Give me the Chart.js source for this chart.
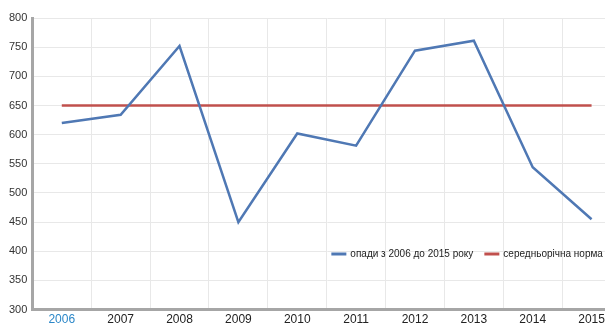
<!DOCTYPE html>
<html>
<head>
<meta charset="utf-8">
<script src="https://cdn.jsdelivr.net/npm/chart.js@4"></script>
<style>
  html, body { margin: 0; padding: 0; background: #fff; overflow: hidden; }
  #wrap { width: 605px; height: 323px; overflow: hidden; }
</style>
</head>
<body>
<div id="wrap"><canvas id="rainChart" width="626" height="330"></canvas></div>
<script>
// Data
const years = ["2006", "2007", "2008", "2009", "2010", "2011", "2012", "2013", "2014", "2015"];
const rainfall = [620, 634, 752, 450, 602, 581, 744, 761, 544, 455];
const norm = [650, 650, 650, 650, 650, 650, 650, 650, 650, 650];
const yTicks = [300, 350, 400, 450, 500, 550, 600, 650, 700, 750, 800];

const ctx = document.getElementById("rainChart").getContext("2d");

// legend drawn inside the plot, near the bottom
const innerLegend = {
  id: "innerLegend",
  afterDatasetsDraw(chart) {
    const c = chart.ctx;
    const area = chart.chartArea;
    const y = area.top + 236;
    const starts = [area.left + 299, area.left + 452];
    c.save();
    c.font = "10px 'Liberation Sans', Arial, sans-serif";
    c.textBaseline = "middle";
    chart.data.datasets.forEach((ds, i) => {
      const x = starts[i];
      c.strokeStyle = ds.borderColor;
      c.lineWidth = 3;
      c.beginPath();
      c.moveTo(x, y);
      c.lineTo(x + 15, y);
      c.stroke();
      c.fillStyle = "#222";
      c.fillText(ds.label, x + 19, y);
    });
    c.restore();
  }
};

new Chart(ctx, {
  type: "line",
  data: {
    labels: years,
    datasets: [
      {
        label: "опади з 2006 до 2015 року",
        data: rainfall,
        borderColor: "#4f78b4",
        borderWidth: 2.5,
        pointRadius: 0,
        tension: 0
      },
      {
        label: "середньорічна норма",
        data: norm,
        borderColor: "#c0504d",
        borderWidth: 2.5,
        pointRadius: 0,
        tension: 0
      }
    ]
  },
  options: {
    responsive: false,
    animation: false,
    layout: { padding: { top: 18, right: 5, left: 4, bottom: 0 } },
    plugins: {
      legend: { display: false },
      tooltip: { enabled: false }
    },
    scales: {
      x: {
        offset: true,
        grid: { offset: true, color: "#e8e8e8", drawTicks: false },
        border: { color: "#a6a6a6", width: 3 },
        ticks: {
          padding: 3,
          color: years.map((y, i) => (i === 0 ? "#2b87c8" : "#222")),
          font: { family: "'Liberation Sans', Arial, sans-serif", size: 12 },
          maxRotation: 0,
          autoSkip: false
        }
      },
      y: {
        min: yTicks[0],
        max: yTicks[yTicks.length - 1],
        afterBuildTicks: axis => { axis.ticks = yTicks.map(v => ({ value: v })); },
        grid: { color: "#e8e8e8", drawTicks: false },
        border: { color: "#a6a6a6", width: 3 },
        ticks: {
          padding: 5,
          color: "#333",
          font: { family: "'Liberation Sans', Arial, sans-serif", size: 11 }
        }
      }
    }
  },
  plugins: [innerLegend]
});
</script>
</body>
</html>
